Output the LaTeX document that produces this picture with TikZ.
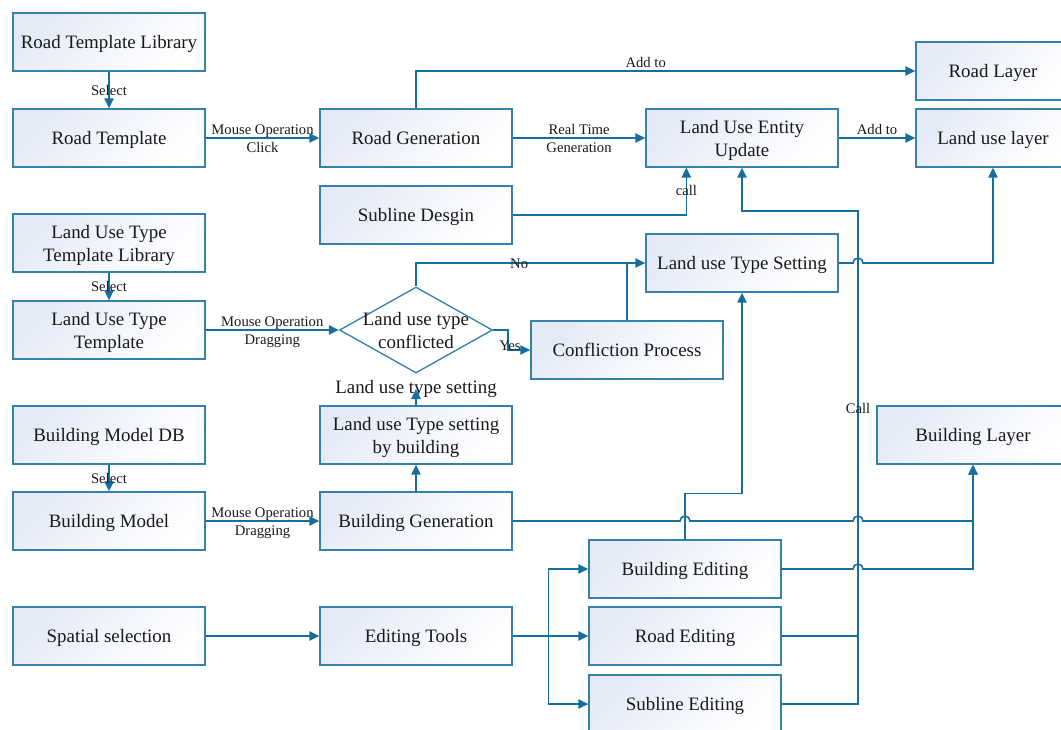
\documentclass[tikz,border=0pt]{standalone}
\usepackage{fontspec}
\setmainfont{Liberation Serif}
\usetikzlibrary{arrows.meta,shapes.geometric,calc}

\definecolor{flowline}{RGB}{22,110,158}
\definecolor{boxline}{RGB}{52,130,172}
\definecolor{boxtint}{RGB}{228,234,246}

\tikzset{every picture/.style={line width=1.2pt}}
\tikzset{
	box/.style={draw=boxline, line width=1pt, top color=boxtint, bottom color=white, shading angle=45,
		minimum width=144pt, minimum height=43.5pt, align=center, inner sep=1pt, text depth=0pt,
		font=\fontsize{14.2}{17.25}\selectfont, text=black!90},
	layerbox/.style={box, minimum width=115.5pt},
	decision/.style={diamond, draw=boxline, line width=1pt, fill=white, minimum width=114.75pt, minimum height=64.5pt, inner sep=0pt},
	bigtxt/.style={font=\fontsize{14.2}{17.25}\selectfont, text=black!90, align=center, inner sep=0pt},
	lbl/.style={font=\fontsize{11}{13}\selectfont, text=black!90, inner sep=1pt, text height=10.3pt, text depth=2.2pt},
	lbla/.style={lbl, text height=7.3pt, text depth=0.7pt},
	lblb/.style={lbl, inner sep=3pt, text height=7.3pt},
	arr/.style={draw=flowline, -{Triangle[length=7.5pt,width=7pt]}},
	flow/.style={draw=flowline}
}

\begin{document}
\begin{tikzpicture}[x=0.75pt,y=0.75pt,yscale=-1,xscale=1]
	\useasboundingbox (0,0) rectangle (1061,729);
	\clip (0,0) rectangle (1061,729);

	%Shape: left column
	\node[box] (rtl) at (109,42) {Road Template Library};
	\node[box] (rt) at (109,138) {Road Template};
	\node[box] (luttl) at (109,243) {Land Use Type\\Template Library};
	\node[box] (lutt) at (109,330) {Land Use Type\\Template};
	\node[box] (bmdb) at (109,435) {Building Model DB};
	\node[box] (bm) at (109,521) {Building Model};
	\node[box] (spat) at (109,636) {Spatial selection};

	%Shape: middle column
	\node[box] (rgen) at (416,138) {Road Generation};
	\node[box] (subd) at (416,215) {Subline Desgin};
	\node[decision] (conf) at (416,330) {};
	\node[bigtxt] (conftxt) at (416,331) {Land use type\\conflicted};
	\node[box] (lutsb) at (416,435) {Land use Type setting\\by building};
	\node[box] (bgen) at (416,521) {Building Generation};
	\node[box] (etools) at (416,636) {Editing Tools};
	\node[box] (cp) at (627,350) {Confliction Process};

	%Shape: right part
	\node[box] (lueu) at (742,138) {Land Use Entity\\Update};
	\node[box] (luts) at (742,263) {Land use Type Setting};
	\node[box] (bedit) at (685,569) {Building Editing};
	\node[box] (redit) at (685,636) {Road Editing};
	\node[box] (sedit) at (685,704) {Subline Editing};
	\node[layerbox] (rlay) at (993,71) {Road Layer};
	\node[layerbox] (lul) at (993,138) {Land use layer};
	\node[box] (blay) at (973,435) {Building Layer};

	\coordinate (bus) at (858,211);
	\coordinate (callin) at ($(lueu.south west)+(41,0)$);

	% road part
	\draw[arr] (rtl) -- (rt) node[midway, lbl] {Select};
	\draw[arr] (rt) -- (rgen) node[midway, lbla, above] {Mouse Operation} node[midway, lblb, below] {Click};
	\draw[arr] (rgen.north) |- (rlay.west) node[pos=0.73, lbla, above] {Add to};
	\draw[arr] (rgen) -- (lueu) node[midway, lbla, above] {Real Time} node[midway, lblb, below] {Generation};
	\draw[arr] (lueu) -- (lul) node[midway, lbla, above] {Add to};
	\draw[arr] (subd.east) -| (callin) node[pos=0.76, lbl] {call};

	% land use part
	\draw[arr] (luttl) -- (lutt) node[midway, lbl] {Select};
	\draw[arr] (lutt) -- (conf) node[midway, lbla, above] {Mouse Operation} node[midway, lblb, below] {Dragging};
	\draw[arr] (conf.north) |- (luts.west) node[pos=0.725, lbl] {No};
	\draw[arr] (conf.east) -- ++(15,0) |- (cp.west);
	\node[lbl] (yes) at (510,345) {Yes};
	\draw[flow] (cp.north) -- (cp.north |- luts.west);
	\node[bigtxt] (lts) at (416,389) {Land use type setting};
	\draw[arr] (lutsb.north) -- (lts.center);
	\draw[arr] (luts.east) -- ($(bus |- luts.east)+(-5,0)$) arc (180:360:5) -| (lul.south);

	% building part
	\draw[arr] (bmdb) -- (bm) node[midway, lbl] {Select};
	\draw[arr] (bm) -- (bgen) node[midway, lbla, above] {Mouse Operation} node[midway, lblb, below] {Dragging};
	\draw[arr] (bgen) -- (lutsb);
	\draw[arr] (bgen.east) -- ($(bedit.north |- bgen.east)+(-5,0)$) arc (180:360:5)
		-- ($(bus |- bgen.east)+(-5,0)$) arc (180:360:5) -| (blay.south);
	\draw[arr] (bedit.north) -- ++(0,-46) -| (luts.south);
	\draw[arr] (bedit.east) -- ($(bus |- bedit.east)+(-5,0)$) arc (180:360:5) -| (blay.south);

	% editing part
	\draw[arr] (spat) -- (etools);
	\draw[arr] (etools.east) -- ++(36,0) |- (bedit.west);
	\draw[arr] (etools) -- (redit);
	\draw[arr] (etools.east) -- ++(36,0) |- (sedit.west);
	\draw[arr] (sedit.east) -| (bus) node[pos=0.8, lbl] {Call} -| (lueu.south);
	\draw[flow] (redit.east) -- (redit.east -| bus);

\end{tikzpicture}
\end{document}
